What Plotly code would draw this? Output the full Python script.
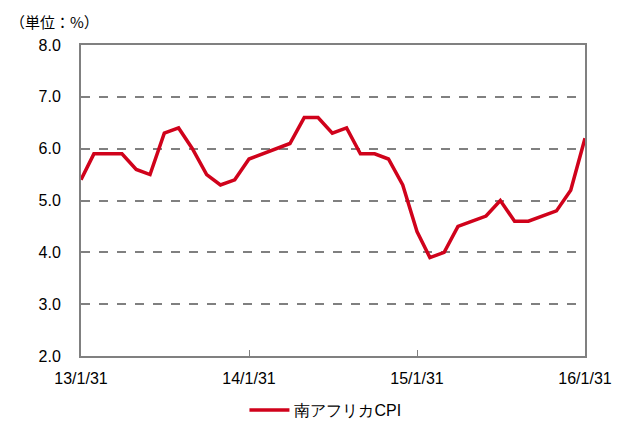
import plotly.graph_objects as go
import pandas as pd

dates = pd.date_range("2013-01-31", periods=37, freq="ME").strftime("%Y-%m-%d").tolist()
cpi = [5.4, 5.9, 5.9, 5.9, 5.6, 5.5, 6.3, 6.4, 6.0, 5.5, 5.3, 5.4,
       5.8, 5.9, 6.0, 6.1, 6.6, 6.6, 6.3, 6.4, 5.9, 5.9, 5.8, 5.3,
       4.4, 3.9, 4.0, 4.5, 4.6, 4.7, 5.0, 4.6, 4.6, 4.7, 4.8, 5.2,
       6.2]
xtick_vals = ["2013-01-31", "2014-01-31", "2015-01-31", "2016-01-31"]
xtick_text = ["13/1/31", "14/1/31", "15/1/31", "16/1/31"]
ytick_vals = [2, 3, 4, 5, 6, 7, 8]
ytick_text = ["2.0", "3.0", "4.0", "5.0", "6.0", "7.0", "8.0"]

fig = go.Figure()
fig.add_trace(go.Scatter(x=dates, y=cpi, mode="lines", name="南アフリカCPI",
                         line=dict(color="#D0021B", width=3.5)))

fig.update_layout(
    width=621, height=427,
    margin=dict(l=73, r=44, t=37, b=79, autoexpand=False),
    paper_bgcolor="white", plot_bgcolor="white",
    font=dict(family="Liberation Sans, Arial, sans-serif", size=15, color="black"),
    showlegend=True,
    legend=dict(orientation="h", x=0.485, xanchor="center", y=-0.174, yanchor="middle",
                font=dict(size=16), itemwidth=40),
    xaxis=dict(type="date", range=["2013-01-31", "2016-01-31"],
               tickvals=xtick_vals, ticktext=xtick_text,
               showgrid=False, showline=True, linecolor="#808080", linewidth=2,
               mirror=True, ticks="inside", ticklen=6, tickcolor="#808080",
               ticklabelstandoff=7, zeroline=False, tickfont=dict(size=16)),
    yaxis=dict(range=[2, 8], tickvals=ytick_vals, ticktext=ytick_text,
               showgrid=True, gridcolor="#808080", griddash="dash", gridwidth=1.5,
               showline=True, linecolor="#808080", linewidth=2, mirror=True,
               ticks="", ticklabelstandoff=15, zeroline=False, tickfont=dict(size=16)),
    annotations=[dict(text="（単位：%）", xref="paper", yref="paper", x=-0.145, y=1.035,
                      xanchor="left", yanchor="bottom", showarrow=False,
                      font=dict(size=15, family="Noto Sans CJK JP, sans-serif"))],
)

fig.write_html("out.html")
